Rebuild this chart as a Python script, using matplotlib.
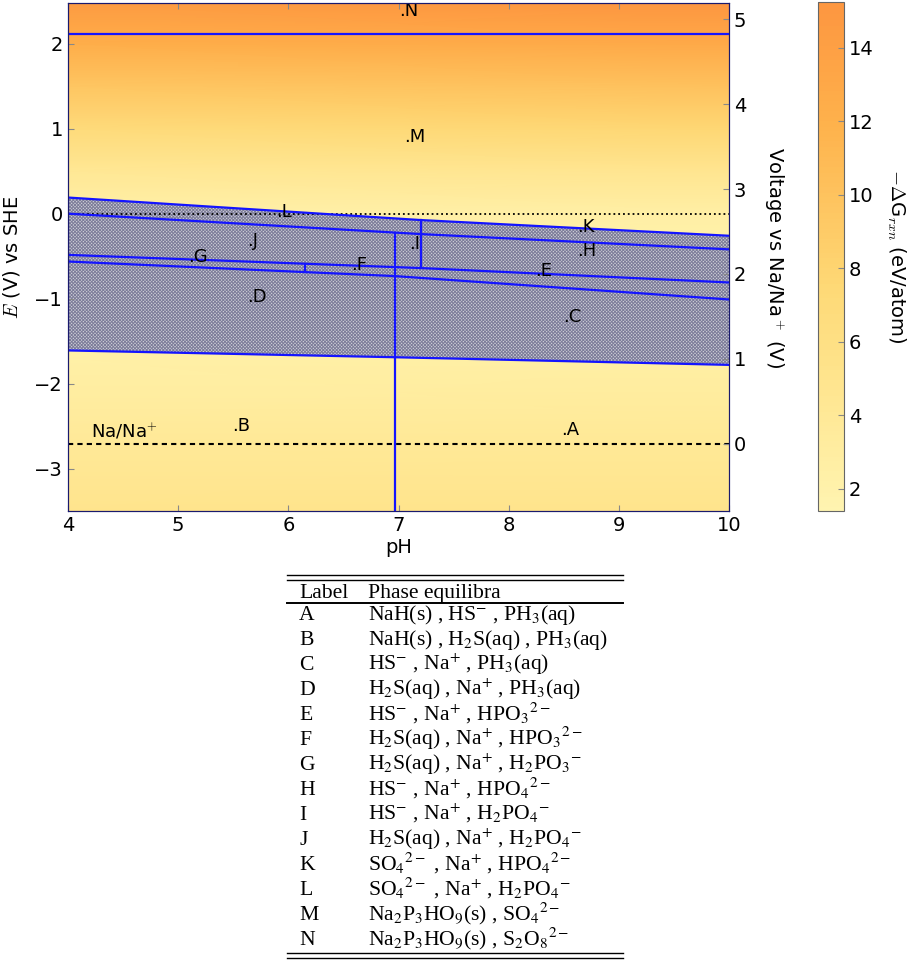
import numpy as np
import matplotlib
matplotlib.use('Agg')
import matplotlib.pyplot as plt
from matplotlib.colors import ListedColormap, Normalize
from matplotlib.cm import ScalarMappable

plt.rcParams['font.family'] = ['DejaVu Sans']
plt.rcParams['mathtext.fontset'] = 'cm'
plt.rcParams['hatch.linewidth'] = 0.7

# ---------------- data ----------------
ph_range = [4, 10]
E_range = [-3.5, 2.48]
NA_SHIFT = 2.71          # E(Na/Na+) vs SHE
dG_range = [1.4, 15.25]
cbar_ticks = [2, 4, 6, 8, 10, 12, 14]

# background -dG_rxn samples
bg_E = [-3.5, -2.5, -1.7, -0.8, 0.0, 0.5, 1.0, 1.5, 2.0, 2.48]
bg_dG_ph4 = [5.0, 3.6, 2.4, 1.8, 2.2, 4.2, 7.0, 9.6, 12.3, 14.6]
bg_dG_ph10 = [5.2, 3.8, 2.6, 1.8, 2.5, 4.8, 7.6, 10.2, 12.9, 15.2]

# phase boundaries (pH, E)
bnd_NM_ph = [4, 10];          bnd_NM_E = [2.12, 2.12]
bnd_top_ph = [4, 7.2, 10];    bnd_top_E = [0.19, -0.075, -0.26]
bnd_L_ph = [4, 7.2, 10];      bnd_L_E = [0.0, -0.24, -0.42]
bnd_G_ph = [4, 7.2, 10];      bnd_G_E = [-0.485, -0.64, -0.81]
bnd_D_ph = [4, 6.97, 10];     bnd_D_E = [-0.563, -0.735, -1.01]
bnd_bot_ph = [4, 6.97, 10];   bnd_bot_E = [-1.61, -1.69, -1.78]

vert_ph = [6.97, 7.2, 6.15]

# region labels
reg_labels = ['A', 'B', 'C', 'D', 'E', 'F', 'G', 'H', 'I', 'J', 'K', 'L', 'M', 'N']
reg_ph = [8.48, 5.49, 8.49, 5.63, 8.24, 6.57, 5.09, 8.62, 7.10, 5.63, 8.62, 5.89, 7.05, 7.01]
reg_E = [-2.55, -2.50, -1.22, -0.98, -0.68, -0.61, -0.505, -0.435, -0.356, -0.325, -0.16, 0.02, 0.90, 2.39]

phases = [
    r'NaH(s) , HS$^{-}$ , PH$_{3}$(aq)',
    r'NaH(s) , H$_{2}$S(aq) , PH$_{3}$(aq)',
    r'HS$^{-}$ , Na$^{+}$ , PH$_{3}$(aq)',
    r'H$_{2}$S(aq) , Na$^{+}$ , PH$_{3}$(aq)',
    r'HS$^{-}$ , Na$^{+}$ , HPO$_{3}$$^{2-}$',
    r'H$_{2}$S(aq) , Na$^{+}$ , HPO$_{3}$$^{2-}$',
    r'H$_{2}$S(aq) , Na$^{+}$ , H$_{2}$PO$_{3}$$^{-}$',
    r'HS$^{-}$ , Na$^{+}$ , HPO$_{4}$$^{2-}$',
    r'HS$^{-}$ , Na$^{+}$ , H$_{2}$PO$_{4}$$^{-}$',
    r'H$_{2}$S(aq) , Na$^{+}$ , H$_{2}$PO$_{4}$$^{-}$',
    r'SO$_{4}$$^{2-}$ , Na$^{+}$ , HPO$_{4}$$^{2-}$',
    r'SO$_{4}$$^{2-}$ , Na$^{+}$ , H$_{2}$PO$_{4}$$^{-}$',
    r'Na$_{2}$P$_{3}$HO$_{9}$(s) , SO$_{4}$$^{2-}$',
    r'Na$_{2}$P$_{3}$HO$_{9}$(s) , S$_{2}$O$_{8}$$^{2-}$',
]

# ---------------- figure ----------------
W, H = 909, 960
fig = plt.figure(figsize=(W / 100, H / 100), dpi=100)

cmap = ListedColormap(plt.get_cmap('YlOrRd')(np.linspace(0.08, 0.47, 256)))
norm = Normalize(*dG_range)

# table (pixel coordinates axes)
tab = fig.add_axes([0, 0, 1, 1])
tab.set_xlim(0, W)
tab.set_ylim(H, 0)
tab.axis('off')
tx0, tx1 = 287, 623
for yy in (575, 580):
    tab.plot([tx0, tx1], [yy, yy], color='k', lw=1.0)
tab.plot([tx0, tx1], [603, 603], color='k', lw=1.4)
for yy in (953, 958):
    tab.plot([tx0, tx1], [yy, yy], color='k', lw=1.0)
tkw = dict(fontfamily='Liberation Serif', math_fontfamily='stix', fontsize=15.6,
           va='baseline', ha='left')
tab.text(299, 598, 'Label', **tkw)
tab.text(368, 598, 'Phase equilibra', **tkw)
for i, (lab, ph) in enumerate(zip(reg_labels, phases)):
    yb = 620 + 25 * i
    tab.text(299, yb, lab, **tkw)
    tab.text(368, yb, ph, **tkw)

# main axes
ax = fig.add_axes([68 / W, 1 - 511 / H, (729 - 68) / W, (511 - 3) / H])
PH, EE = np.meshgrid(ph_range, bg_E)
C = np.column_stack([bg_dG_ph4, bg_dG_ph10])
ax.pcolormesh(PH, EE, C, shading='gouraud', cmap=cmap, norm=norm, zorder=0)

# hatched band
poly_x = np.concatenate([bnd_top_ph, bnd_bot_ph[::-1]])
poly_y = np.concatenate([bnd_top_E, bnd_bot_E[::-1]])
ax.fill(poly_x, poly_y, facecolor='#cfcfd8', edgecolor='#7c7c99', hatch='xxxxxxxxxx',
        linewidth=0, zorder=1)

lc = '#1414ff'
lw = 1.6
for xs, ys in [(bnd_NM_ph, bnd_NM_E), (bnd_top_ph, bnd_top_E), (bnd_L_ph, bnd_L_E),
               (bnd_G_ph, bnd_G_E), (bnd_D_ph, bnd_D_E), (bnd_bot_ph, bnd_bot_E)]:
    ax.plot(xs, ys, color=lc, lw=lw, zorder=3)

# vertical boundaries
v0 = vert_ph[0]
ax.plot([v0, v0], [np.interp(v0, bnd_L_ph, bnd_L_E), E_range[0]], color=lc, lw=lw, zorder=3)
v1 = vert_ph[1]
ax.plot([v1, v1], [np.interp(v1, bnd_top_ph, bnd_top_E), np.interp(v1, bnd_G_ph, bnd_G_E)],
        color=lc, lw=lw, zorder=3)
v2 = vert_ph[2]
ax.plot([v2, v2], [np.interp(v2, bnd_G_ph, bnd_G_E), np.interp(v2, bnd_D_ph, bnd_D_E)],
        color=lc, lw=lw, zorder=3)

ax.axhline(0, color='k', ls=':', lw=1.3, zorder=2)
ax.axhline(-NA_SHIFT, color='k', ls=(0, (2.5, 2)), lw=1.5, zorder=2)
ax.text(4.21, -2.57, r'Na/Na$^{+}$', fontsize=13, ha='left', va='center', zorder=4)

for lab, x, y in zip(reg_labels, reg_ph, reg_E):
    ax.text(x, y, '.' + lab, fontsize=13, ha='left', va='center', zorder=4)

ax.set_xlim(*ph_range)
ax.set_ylim(*E_range)
ax.set_xticks(range(4, 11))
ax.set_yticks([-3, -2, -1, 0, 1, 2])
ax.tick_params(direction='in', top=True, right=False, labelsize=14, length=4,
               color='#888888')
ax.set_xlabel('pH', fontsize=14, labelpad=2)
ax.set_ylabel(r'$E$ (V) vs SHE', fontsize=14)
ax.yaxis.set_label_coords(-0.069, 0.5)
spc = '#1a1a6e'
for s in ax.spines.values():
    s.set_color(spc)

ax2 = ax.twinx()
ax2.set_ylim(E_range[0] + NA_SHIFT, E_range[1] + NA_SHIFT)
ax2.set_yticks([0, 1, 2, 3, 4, 5])
ax2.tick_params(direction='in', labelsize=14, length=4, color='#888888')
ax2.set_ylabel(r'Voltage vs Na/Na$^+$ (V)', fontsize=14, rotation=270, labelpad=29)
for s in ax2.spines.values():
    s.set_color(spc)

# colorbar
cax = fig.add_axes([818 / W, 1 - 511 / H, 26 / W, 509 / H])
cb = fig.colorbar(ScalarMappable(norm=norm, cmap=cmap), cax=cax)
cb.set_ticks(cbar_ticks)
cb.outline.set_edgecolor('#666666')
cax.tick_params(direction='in', labelsize=14, length=4, color='#888888')
cb.set_label(r'$-\Delta$G$_{rxn}$ (eV/atom)', fontsize=14, rotation=270, labelpad=24)

fig.savefig('out.png', dpi=100)
